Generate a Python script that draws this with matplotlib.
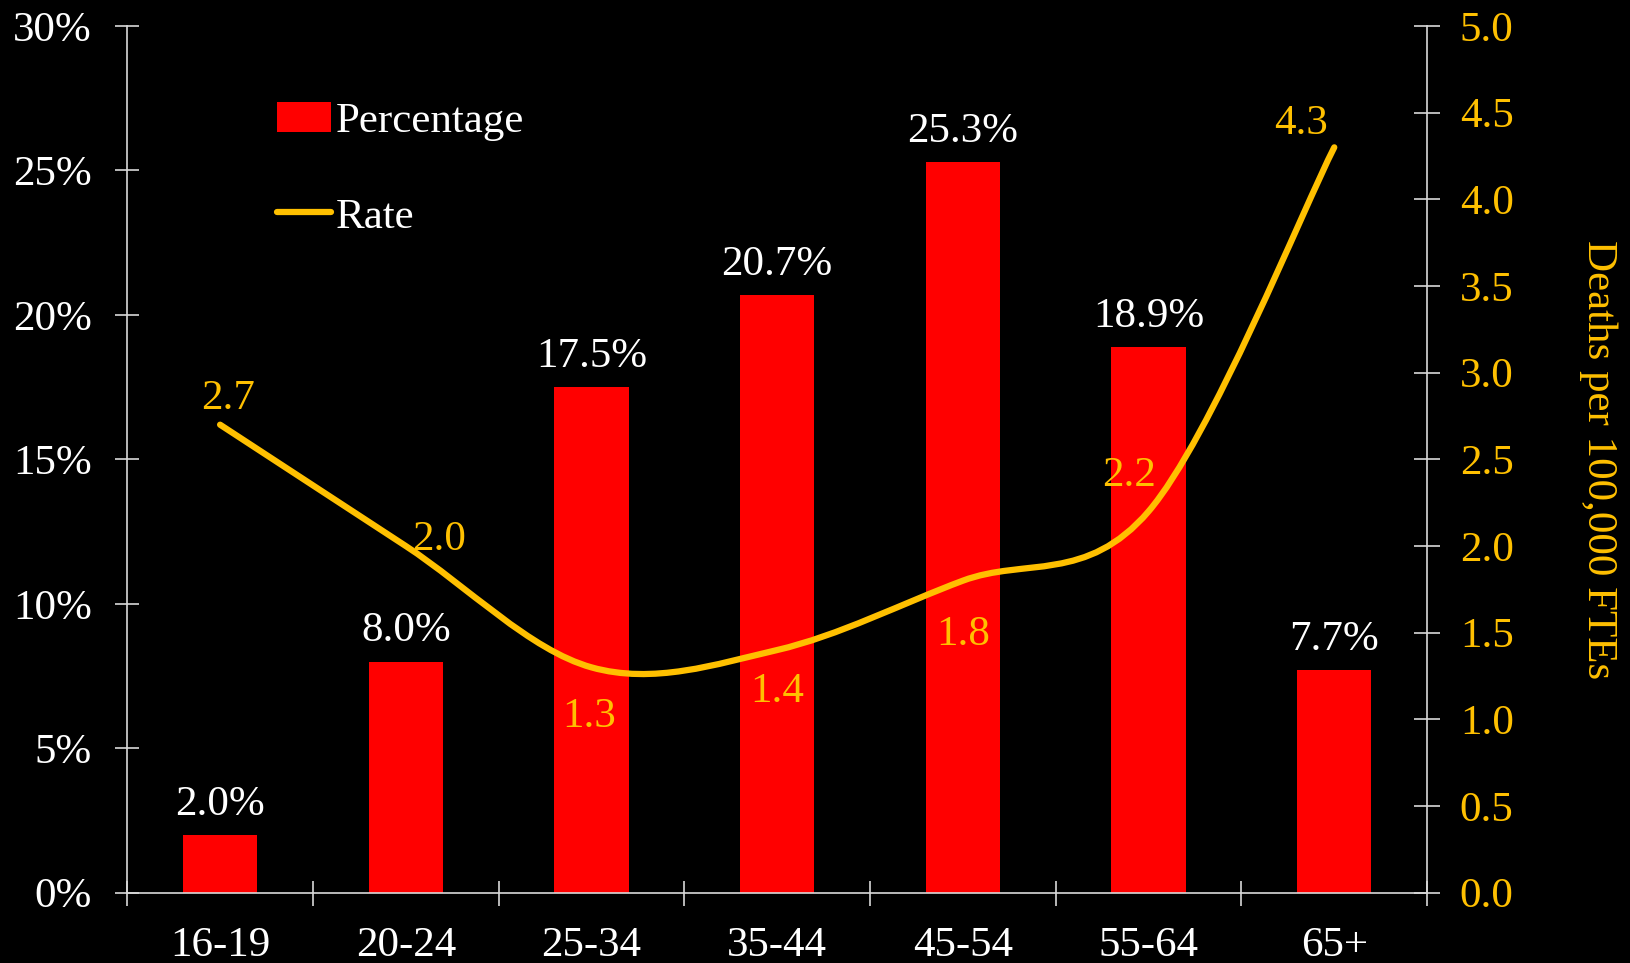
import numpy as np
import matplotlib.pyplot as plt
from matplotlib.path import Path
from matplotlib.patches import PathPatch, Patch
from matplotlib.lines import Line2D

age_groups = ["16-19", "20-24", "25-34", "35-44", "45-54", "55-64", "65+"]
percentage = [2.0, 8.0, 17.5, 20.7, 25.3, 18.9, 7.7]
rate = [2.7, 2.0, 1.3, 1.4, 1.8, 2.2, 4.3]

plt.rcParams['font.family'] = ['Liberation Serif', 'DejaVu Serif']
FS = 31
GOLD = "#FFC000"
AXIS_C = "#D9D9D9"

fig = plt.figure(figsize=(16.31, 9.63), dpi=100, facecolor="black")
ax = fig.add_axes([0.078, 0.073, 0.797, 0.900])
ax.set_facecolor("black")
ax2 = ax.twinx()

x = np.arange(len(age_groups))

# bars (left axis)
ax.bar(x, percentage, width=0.4, color="#FF0000", zorder=2)
for xi, v in zip(x, percentage):
    ax.annotate(f"{v:.1f}%", (xi, v), xytext=(0, 8), textcoords="offset points",
                ha="center", va="bottom", color="white", fontsize=FS)

ax.set_xlim(-0.5, len(age_groups) - 0.5)
ax.set_ylim(0, 30)
ax.set_yticks(np.arange(0, 31, 5))
ax.set_yticklabels([f"{t}%" for t in range(0, 31, 5)])
ax.set_xticks(np.arange(-0.5, len(age_groups), 1.0))
ax.set_xticklabels([])
ax.set_xticks(x, minor=True)
ax.set_xticklabels(age_groups, minor=True)
ax.tick_params(axis="x", which="major", direction="inout", length=18, color=AXIS_C, width=1.2)
ax.tick_params(axis="x", which="minor", length=0, pad=24, labelcolor="white", labelsize=FS)
ax.tick_params(axis="y", direction="inout", length=17, color=AXIS_C, width=1.2,
               labelcolor="white", labelsize=FS, pad=17)
for s in ["top", "right"]:
    ax.spines[s].set_visible(False)
for s in ["left", "bottom"]:
    ax.spines[s].set_color(AXIS_C)
    ax.spines[s].set_linewidth(1.2)

# smoothed rate line (right axis), cubic Bezier segments through the points
pts = np.column_stack([x, rate]).astype(float)
verts = [pts[0]]
codes = [Path.MOVETO]
n = len(pts)
for i in range(n - 1):
    p0 = pts[max(i - 1, 0)]
    p1 = pts[i]
    p2 = pts[i + 1]
    p3 = pts[min(i + 2, n - 1)]
    c1 = p1 + (p2 - p0) / 6.0
    c2 = p2 - (p3 - p1) / 6.0
    verts += [c1, c2, p2]
    codes += [Path.CURVE4] * 3
ax2.add_patch(PathPatch(Path(verts, codes), facecolor="none", edgecolor=GOLD,
                        lw=4.5, capstyle="round", zorder=3))

rate_offsets = [(6, 5), (24, -9), (-2, -22), (0, -16), (0, -25), (-14, 12), (-24, 3)]
rate_va = ["bottom", "bottom", "top", "top", "top", "bottom", "bottom"]
for xi, v, off, va in zip(x, rate, rate_offsets, rate_va):
    ax2.annotate(f"{v:.1f}", (xi, v), xytext=off, textcoords="offset points",
                 ha="center", va=va, color=GOLD, fontsize=FS)

ax2.set_ylim(0, 5)
ax2.set_yticks(np.arange(0, 5.01, 0.5))
ax2.set_yticklabels([f"{t:.1f}" for t in np.arange(0, 5.01, 0.5)])
ax2.tick_params(axis="y", direction="inout", length=19, color=AXIS_C, width=1.2,
                labelcolor=GOLD, labelsize=FS, pad=14)
ax2.set_ylabel("Deaths per 100,000 FTEs", color=GOLD, fontsize=FS,
               rotation=270, labelpad=75)
for s in ["top", "left", "bottom"]:
    ax2.spines[s].set_visible(False)
ax2.spines["right"].set_color(AXIS_C)
ax2.spines["right"].set_linewidth(1.2)

handles = [Patch(facecolor="#FF0000", edgecolor="none"),
           Line2D([0], [0], color=GOLD, lw=4.5, solid_capstyle="round")]
leg = ax.legend(handles, ["Percentage", "Rate"], loc="upper left",
                bbox_to_anchor=(0.115, 0.912), frameon=False, fontsize=FS,
                handlelength=1.25, handletextpad=0.12, labelspacing=1.3,
                borderpad=0, borderaxespad=0)
for t in leg.get_texts():
    t.set_color("white")

fig.savefig("out.png", dpi=100, facecolor="black")
